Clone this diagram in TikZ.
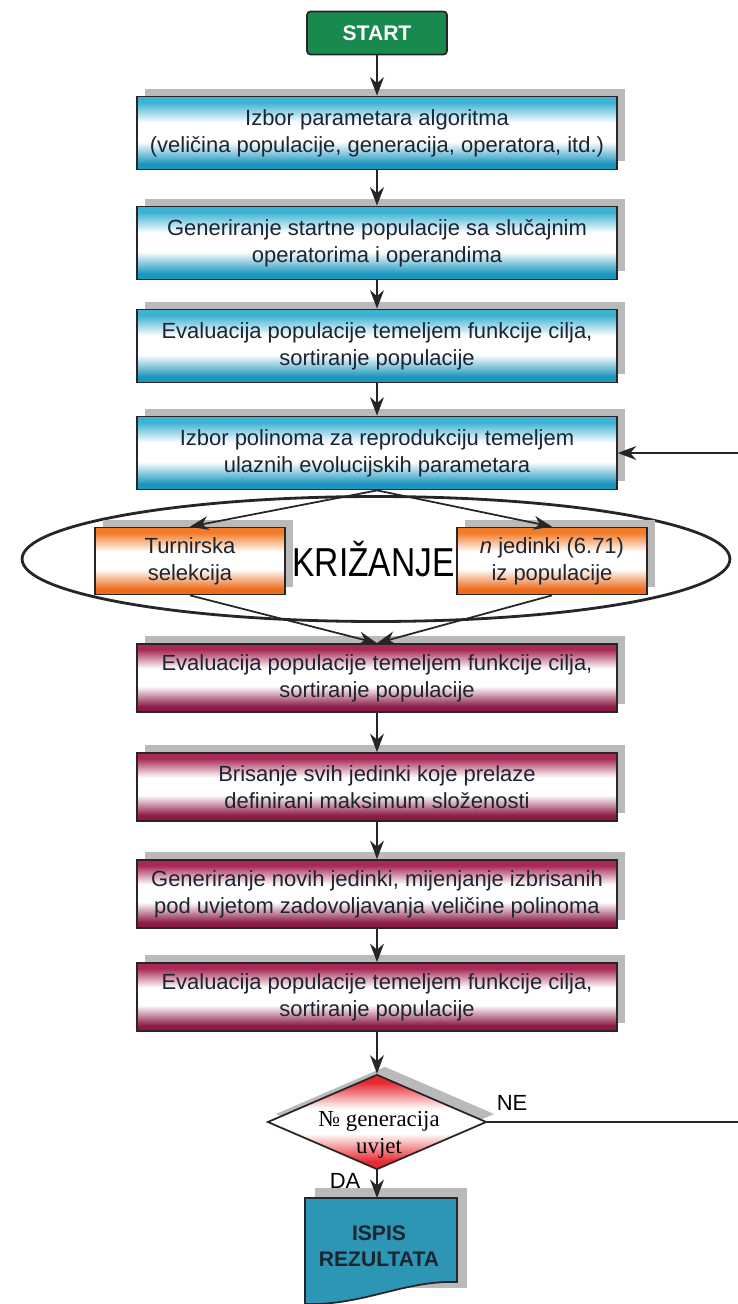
\documentclass[tikz,border=0pt]{standalone}
\usepackage{fontspec}
\setmainfont{Liberation Sans}
\newfontfamily\serifni{Liberation Serif}
\usetikzlibrary{arrows.meta}
\usetikzlibrary{shapes.geometric}
\usetikzlibrary{shadows}
\tikzset{>={Stealth[scale=1.4]}}

\definecolor{zelena}{RGB}{24,138,78}
\definecolor{plavaG}{RGB}{62,178,212}
\definecolor{plavaD}{RGB}{28,150,190}
\definecolor{narancaG}{RGB}{242,124,42}
\definecolor{narancaD}{RGB}{236,108,28}
\definecolor{bordoG}{RGB}{168,40,86}
\definecolor{bordoD}{RGB}{140,26,70}
\definecolor{crvena}{RGB}{232,42,48}
\definecolor{tirkiz}{RGB}{44,150,180}
\definecolor{sjena}{RGB}{186,186,186}
\definecolor{rub}{RGB}{40,36,40}
\definecolor{tekst}{RGB}{28,36,48}

\pgfdeclareverticalshading[gornja,donja]{traka}{100bp}{color(0bp)=(donja); color(29bp)=(donja); color(44bp)=(white); color(57bp)=(white); color(71bp)=(gornja); color(100bp)=(gornja)}

\tikzset{
  sjenka/.style={drop shadow={shadow xshift=0.16cm, shadow yshift=0.16cm, fill=sjena, opacity=1}},
  blok/.style={rectangle, draw=rub, line width=1pt, sjenka, align=center,
    minimum width=9.6cm, minimum height=1.46cm, text=tekst,
    font=\fontsize{12.5}{15.5}\selectfont},
  plavi/.style={blok, /utils/exec={\colorlet{gornja}{plavaG}\colorlet{donja}{plavaD}}, shading=traka},
  bordo/.style={blok, minimum height=1.36cm, /utils/exec={\colorlet{gornja}{bordoG}\colorlet{donja}{bordoD}}, shading=traka},
  naranca/.style={blok, minimum width=3.8cm, minimum height=1.34cm,
    /utils/exec={\colorlet{gornja}{narancaG}\colorlet{donja}{narancaD}}, shading=traka},
  pocetak/.style={rectangle, rounded corners=2pt, draw=rub, line width=1pt, fill=zelena,
    minimum width=2.8cm, minimum height=0.86cm, text=white, font=\fontsize{12}{14}\bfseries},
  krug/.style={ellipse, draw=rub, line width=1.6pt, minimum width=14.16cm, minimum height=2.5cm,
    font=\fontsize{23}{26}\selectfont, text=black},
  odluka/.style={diamond, aspect=2.3, draw=rub, line width=1pt, sjenka, inner sep=0pt,
    minimum width=4.38cm, minimum height=1.9cm,
    /utils/exec={\colorlet{gornja}{crvena}\colorlet{donja}{crvena}}, shading=traka},
  odlukatekst/.style={align=center, inner sep=0pt, text=black,
    font=\serifni\fontsize{13}{15.5}\selectfont},
  oznaka/.style={font=\fontsize{12.5}{15}\selectfont, text=black},
  ispis/.style={align=center, text=tekst, font=\fontsize{12}{15}\bfseries},
  veza/.style={draw=rub, line width=1pt}
}

\begin{document}
\begin{tikzpicture}[x=0.02cm, y=-0.02cm]
  \useasboundingbox (0,0) rectangle (737,1304);

  % 坐标点定义
  \coordinate (P0) at (377,33);
  \coordinate (P1) at (377,133);
  \coordinate (P2) at (377,243);
  \coordinate (P3) at (377,346);
  \coordinate (P4) at (377,453);
  \coordinate (PK) at (376,559);
  \coordinate (PT) at (190,561);
  \coordinate (PN) at (552,561);
  \coordinate (P5) at (377,678);
  \coordinate (P6) at (377,787);
  \coordinate (P7) at (377,894);
  \coordinate (P8) at (377,997);
  \coordinate (PU) at (377,1122);
  \coordinate (desno) at (748,800);
  \coordinate (ispisvrh) at (377,1198);

  % 流程框
  \node[pocetak] (start) at (P0) {START};
  \node[plavi] (izbor1) at (P1) {Izbor parametara algoritma\\(veličina populacije, generacija, operatora, itd.)};
  \node[plavi] (gener1) at (P2) {Generiranje startne populacije sa slučajnim\\operatorima i operandima};
  \node[plavi] (eval1) at (P3) {Evaluacija populacije temeljem funkcije cilja,\\sortiranje populacije};
  \node[plavi] (izbor2) at (P4) {Izbor polinoma za reprodukciju temeljem\\ulaznih evolucijskih parametara};

  \node[krug] (krizanje) at (PK) {\hspace*{-0.1cm}\scalebox{0.83}[1]{KRIŽANJE}};
  \node[naranca] (turnir) at (PT) {Turnirska\\selekcija};
  \node[naranca] (jedinke) at (PN) {\textit{n} jedinki (6.71)\\iz populacije};

  \node[bordo] (eval2) at (P5) {Evaluacija populacije temeljem funkcije cilja,\\sortiranje populacije};
  \node[bordo] (brisanje) at (P6) {Brisanje svih jedinki koje prelaze\\definirani maksimum složenosti};
  \node[bordo] (gener2) at (P7) {Generiranje novih jedinki, mijenjanje izbrisanih\\pod uvjetom zadovoljavanja veličine polinoma};
  \node[bordo] (eval3) at (P8) {Evaluacija populacije temeljem funkcije cilja,\\sortiranje populacije};

  \node[odluka] (uvjet) at (PU) {};
  \node[odlukatekst] (uvjettekst) at (379,1135) {№ generacija\\uvjet};

  % 输出框
  \fill[sjena] (315,1188) rectangle (467,1288);
  \draw[veza, fill=tirkiz] (305,1198) -- (457,1198) -- (457,1282)
    .. controls (405,1280) and (362,1306) .. (305,1304) -- cycle;
  \node[ispis] (ispis) at (379,1246) {ISPIS\\REZULTATA};

  % 连线
  \draw[veza, ->] (start) -- (izbor1);
  \draw[veza, ->] (izbor1) -- (gener1);
  \draw[veza, ->] (gener1) -- (eval1);
  \draw[veza, ->] (eval1) -- (izbor2);
  \draw[veza, ->] (izbor2.south) -- (turnir.north);
  \draw[veza, ->] (izbor2.south) -- (jedinke.north);
  \draw[veza, ->] (turnir.south) -- (eval2.north);
  \draw[veza, ->] (jedinke.south) -- (eval2.north);
  \draw[veza, ->] (eval2) -- (brisanje);
  \draw[veza, ->] (brisanje) -- (gener2);
  \draw[veza, ->] (gener2) -- (eval3);
  \draw[veza, ->] (eval3) -- (uvjet);
  \draw[veza, ->] (uvjet.south) -- (ispisvrh);
  \draw[veza, ->] (uvjet.east) -| (desno) |- (izbor2.east);

  % 标签
  \node[oznaka] (ne) at (512,1103) {NE};
  \node[oznaka] (da) at (345,1181) {DA};
\end{tikzpicture}
\end{document}
